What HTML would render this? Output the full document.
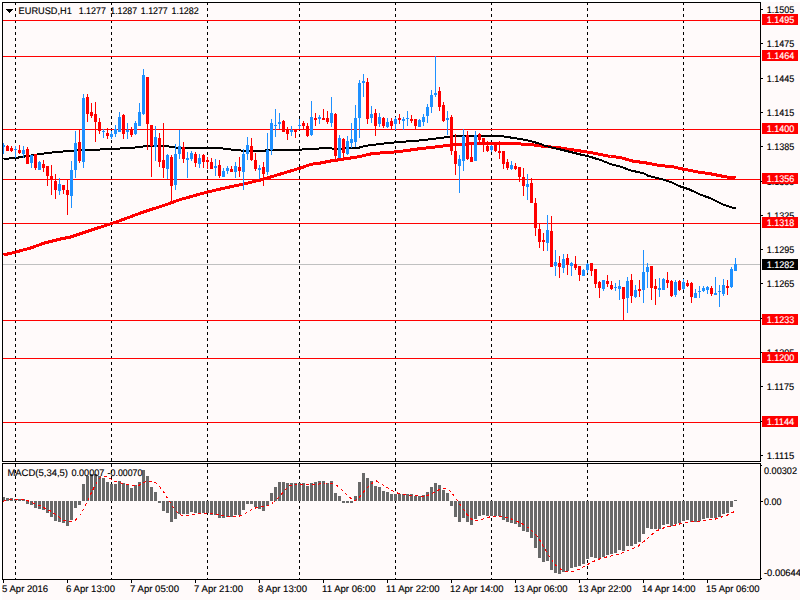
<!DOCTYPE html>
<html lang="en"><head><meta charset="utf-8"><title>EURUSD,H1</title>
<style>html,body{margin:0;padding:0;background:#fff;overflow:hidden}svg{display:block}text{font-family:"Liberation Sans", sans-serif;font-size:9.6px;fill:#000;text-rendering:geometricPrecision;stroke:#000;stroke-width:0.15px}.w{fill:#fff;stroke:#fff}</style></head><body>
<svg width="800" height="600" viewBox="0 0 800 600">
<rect x="0" y="0" width="800" height="600" fill="#fff"/>
<rect x="2" y="2" width="798" height="598" fill="#FFFAFA"/>
<g shape-rendering="crispEdges">
<line x1="15.5" y1="2" x2="15.5" y2="579" stroke="#000" stroke-width="1" stroke-dasharray="3 3"/>
<line x1="111.5" y1="2" x2="111.5" y2="579" stroke="#000" stroke-width="1" stroke-dasharray="3 3"/>
<line x1="207.5" y1="2" x2="207.5" y2="579" stroke="#000" stroke-width="1" stroke-dasharray="3 3"/>
<line x1="299.5" y1="2" x2="299.5" y2="579" stroke="#000" stroke-width="1" stroke-dasharray="3 3"/>
<line x1="395.5" y1="2" x2="395.5" y2="579" stroke="#000" stroke-width="1" stroke-dasharray="3 3"/>
<line x1="491.5" y1="2" x2="491.5" y2="579" stroke="#000" stroke-width="1" stroke-dasharray="3 3"/>
<line x1="587.5" y1="2" x2="587.5" y2="579" stroke="#000" stroke-width="1" stroke-dasharray="3 3"/>
<line x1="683.5" y1="2" x2="683.5" y2="579" stroke="#000" stroke-width="1" stroke-dasharray="3 3"/>
<rect x="3" y="20" width="757" height="1" fill="#FF0000"/>
<rect x="3" y="56" width="757" height="1" fill="#FF0000"/>
<rect x="3" y="129" width="757" height="1" fill="#FF0000"/>
<rect x="3" y="179" width="757" height="1" fill="#FF0000"/>
<rect x="3" y="223" width="757" height="1" fill="#FF0000"/>
<rect x="3" y="320" width="757" height="1" fill="#FF0000"/>
<rect x="3" y="358" width="757" height="1" fill="#FF0000"/>
<rect x="3" y="422" width="757" height="1" fill="#FF0000"/>
<rect x="3" y="264" width="757" height="1" fill="#C0C0C0"/>
<polyline fill="none" stroke="#FF0000" stroke-width="3" stroke-linejoin="round" points="3.5,255 16.1,252 30.5,248 44.5,243 60.5,239 70.5,237 80.5,233.6 94.5,229 111.5,223.6 124.5,219 140.5,213 152.5,209 160.5,206.6 180.5,199.5 207.5,192 220.5,189 243.5,184 260.5,180 280.5,174 290.5,171 300.5,168 310.5,164.4 320.5,163 330.5,161 340.5,159.6 350.5,158 360.5,156.4 370.5,154 380.5,153 390.5,152.4 400.5,151.3 410.5,150 420.5,148.6 430.5,147.6 440.5,146.4 450.5,145 460.5,144.3 480.5,143.5 500.5,143.5 520.5,144 530.5,144.5 540.5,146 550.5,147 560.5,148 570.5,149.5 580.5,151 590.5,152.5 600.5,154.5 610.5,156.5 620.5,157.5 632.5,161 646.5,163 659,165.4 673,166.8 683.5,169.2 697.5,171.9 711.5,174 725.5,176.8 735.5,178"/>
<polyline fill="none" stroke="#000" stroke-width="2" stroke-linejoin="round" points="3.5,159 15.5,158 27.5,156 40.5,154 55.5,152 70.5,151 75.5,150.5 100.5,149.5 120.5,148.5 135.5,147.5 143.5,146.5 150.5,146 167.5,146 170.5,147 180.5,148 200.5,148 210.5,148 222.5,148.5 230.5,149.5 240.5,150.5 265.5,150.5 280.5,150 300.5,149.6 310.5,149 328.5,148 332.5,148.6 356.5,148.4 364.5,146 372.5,145 388.5,143 404.5,141.6 420.5,140.4 432.5,139 440.5,138 450.5,136.5 470.5,135.7 500.5,136 510.5,137.5 520.5,139 530.5,141 540.5,144 545.5,146 560.5,149.5 570.5,152 580.5,154.5 587.5,156 600.5,160 610.5,164 620.5,166.7 630.5,170.4 643.5,173.3 648.5,175.9 662.5,179.4 673,182.9 680,186.4 690.5,189.9 699.5,194.3 711.5,198.6 723.5,204.8 732.5,207.7 735.5,207.7"/>
<rect x="3" y="143" width="1" height="11" fill="#1E90FF"/>
<rect x="2" y="145" width="3" height="2" fill="#1E90FF"/>
<rect x="7" y="145" width="1" height="6" fill="#FF0000"/>
<rect x="6" y="146" width="3" height="5" fill="#FF0000"/>
<rect x="11" y="146" width="1" height="6" fill="#FF0000"/>
<rect x="10" y="148" width="3" height="3" fill="#FF0000"/>
<rect x="15" y="146" width="1" height="12" fill="#1E90FF"/>
<rect x="14" y="149" width="3" height="1" fill="#1E90FF"/>
<rect x="19" y="145" width="1" height="9" fill="#FF0000"/>
<rect x="18" y="150" width="3" height="3" fill="#FF0000"/>
<rect x="23" y="146" width="1" height="12" fill="#1E90FF"/>
<rect x="22" y="150" width="3" height="4" fill="#1E90FF"/>
<rect x="27" y="147" width="1" height="17" fill="#FF0000"/>
<rect x="26" y="149" width="3" height="15" fill="#FF0000"/>
<rect x="31" y="155" width="1" height="13" fill="#1E90FF"/>
<rect x="30" y="155" width="3" height="8" fill="#1E90FF"/>
<rect x="35" y="154" width="1" height="16" fill="#FF0000"/>
<rect x="34" y="154" width="3" height="14" fill="#FF0000"/>
<rect x="39" y="161" width="1" height="9" fill="#1E90FF"/>
<rect x="38" y="162" width="3" height="8" fill="#1E90FF"/>
<rect x="43" y="160" width="1" height="12" fill="#FF0000"/>
<rect x="42" y="164" width="3" height="4" fill="#FF0000"/>
<rect x="47" y="166" width="1" height="20" fill="#FF0000"/>
<rect x="46" y="166" width="3" height="10" fill="#FF0000"/>
<rect x="51" y="165" width="1" height="30" fill="#FF0000"/>
<rect x="50" y="176" width="3" height="3" fill="#FF0000"/>
<rect x="55" y="174" width="1" height="25" fill="#FF0000"/>
<rect x="54" y="181" width="3" height="9" fill="#FF0000"/>
<rect x="59" y="178" width="1" height="17" fill="#1E90FF"/>
<rect x="58" y="184" width="3" height="7" fill="#1E90FF"/>
<rect x="63" y="185" width="1" height="9" fill="#FF0000"/>
<rect x="62" y="185" width="3" height="5" fill="#FF0000"/>
<rect x="67" y="179" width="1" height="36" fill="#FF0000"/>
<rect x="66" y="190" width="3" height="5" fill="#FF0000"/>
<rect x="71" y="161" width="1" height="47" fill="#1E90FF"/>
<rect x="70" y="170" width="3" height="26" fill="#1E90FF"/>
<rect x="75" y="131" width="1" height="47" fill="#1E90FF"/>
<rect x="74" y="143" width="3" height="27" fill="#1E90FF"/>
<rect x="79" y="129" width="1" height="34" fill="#FF0000"/>
<rect x="78" y="142" width="3" height="19" fill="#FF0000"/>
<rect x="83" y="94" width="1" height="74" fill="#1E90FF"/>
<rect x="82" y="98" width="3" height="64" fill="#1E90FF"/>
<rect x="87" y="94" width="1" height="28" fill="#FF0000"/>
<rect x="86" y="97" width="3" height="17" fill="#FF0000"/>
<rect x="91" y="103" width="1" height="15" fill="#FF0000"/>
<rect x="90" y="112" width="3" height="4" fill="#FF0000"/>
<rect x="95" y="102" width="1" height="40" fill="#FF0000"/>
<rect x="94" y="114" width="3" height="8" fill="#FF0000"/>
<rect x="99" y="118" width="1" height="16" fill="#FF0000"/>
<rect x="98" y="122" width="3" height="9" fill="#FF0000"/>
<rect x="103" y="129" width="1" height="9" fill="#1E90FF"/>
<rect x="102" y="131" width="3" height="1" fill="#1E90FF"/>
<rect x="107" y="128" width="1" height="11" fill="#FF0000"/>
<rect x="106" y="133" width="3" height="3" fill="#FF0000"/>
<rect x="111" y="131" width="1" height="8" fill="#1E90FF"/>
<rect x="110" y="134" width="3" height="3" fill="#1E90FF"/>
<rect x="115" y="125" width="1" height="12" fill="#1E90FF"/>
<rect x="114" y="129" width="3" height="5" fill="#1E90FF"/>
<rect x="119" y="112" width="1" height="20" fill="#1E90FF"/>
<rect x="118" y="117" width="3" height="15" fill="#1E90FF"/>
<rect x="123" y="114" width="1" height="25" fill="#FF0000"/>
<rect x="122" y="115" width="3" height="19" fill="#FF0000"/>
<rect x="127" y="123" width="1" height="16" fill="#1E90FF"/>
<rect x="126" y="130" width="3" height="2" fill="#1E90FF"/>
<rect x="131" y="127" width="1" height="10" fill="#FF0000"/>
<rect x="130" y="129" width="3" height="6" fill="#FF0000"/>
<rect x="135" y="121" width="1" height="14" fill="#1E90FF"/>
<rect x="134" y="123" width="3" height="11" fill="#1E90FF"/>
<rect x="139" y="103" width="1" height="23" fill="#1E90FF"/>
<rect x="138" y="112" width="3" height="14" fill="#1E90FF"/>
<rect x="143" y="69" width="1" height="46" fill="#1E90FF"/>
<rect x="142" y="75" width="3" height="39" fill="#1E90FF"/>
<rect x="147" y="77" width="1" height="73" fill="#FF0000"/>
<rect x="146" y="77" width="3" height="47" fill="#FF0000"/>
<rect x="151" y="125" width="1" height="52" fill="#FF0000"/>
<rect x="150" y="125" width="3" height="21" fill="#FF0000"/>
<rect x="155" y="126" width="1" height="35" fill="#1E90FF"/>
<rect x="154" y="137" width="3" height="10" fill="#1E90FF"/>
<rect x="159" y="133" width="1" height="34" fill="#FF0000"/>
<rect x="158" y="138" width="3" height="24" fill="#FF0000"/>
<rect x="163" y="123" width="1" height="55" fill="#FF0000"/>
<rect x="162" y="160" width="3" height="8" fill="#FF0000"/>
<rect x="167" y="154" width="1" height="25" fill="#1E90FF"/>
<rect x="166" y="155" width="3" height="14" fill="#1E90FF"/>
<rect x="171" y="155" width="1" height="47" fill="#FF0000"/>
<rect x="170" y="157" width="3" height="29" fill="#FF0000"/>
<rect x="175" y="144" width="1" height="46" fill="#1E90FF"/>
<rect x="174" y="154" width="3" height="31" fill="#1E90FF"/>
<rect x="179" y="130" width="1" height="29" fill="#1E90FF"/>
<rect x="178" y="146" width="3" height="8" fill="#1E90FF"/>
<rect x="183" y="142" width="1" height="21" fill="#FF0000"/>
<rect x="182" y="147" width="3" height="12" fill="#FF0000"/>
<rect x="187" y="152" width="1" height="26" fill="#1E90FF"/>
<rect x="186" y="158" width="3" height="2" fill="#1E90FF"/>
<rect x="191" y="151" width="1" height="10" fill="#1E90FF"/>
<rect x="190" y="153" width="3" height="6" fill="#1E90FF"/>
<rect x="195" y="152" width="1" height="15" fill="#FF0000"/>
<rect x="194" y="154" width="3" height="9" fill="#FF0000"/>
<rect x="199" y="154" width="1" height="14" fill="#1E90FF"/>
<rect x="198" y="158" width="3" height="6" fill="#1E90FF"/>
<rect x="203" y="154" width="1" height="14" fill="#FF0000"/>
<rect x="202" y="155" width="3" height="7" fill="#FF0000"/>
<rect x="207" y="157" width="1" height="12" fill="#FF0000"/>
<rect x="206" y="160" width="3" height="2" fill="#FF0000"/>
<rect x="211" y="158" width="1" height="11" fill="#FF0000"/>
<rect x="210" y="162" width="3" height="7" fill="#FF0000"/>
<rect x="215" y="159" width="1" height="17" fill="#1E90FF"/>
<rect x="214" y="166" width="3" height="2" fill="#1E90FF"/>
<rect x="219" y="160" width="1" height="18" fill="#FF0000"/>
<rect x="218" y="165" width="3" height="11" fill="#FF0000"/>
<rect x="223" y="168" width="1" height="9" fill="#1E90FF"/>
<rect x="222" y="171" width="3" height="6" fill="#1E90FF"/>
<rect x="227" y="166" width="1" height="8" fill="#1E90FF"/>
<rect x="226" y="168" width="3" height="3" fill="#1E90FF"/>
<rect x="231" y="166" width="1" height="6" fill="#FF0000"/>
<rect x="230" y="169" width="3" height="3" fill="#FF0000"/>
<rect x="235" y="162" width="1" height="16" fill="#1E90FF"/>
<rect x="234" y="166" width="3" height="6" fill="#1E90FF"/>
<rect x="239" y="157" width="1" height="20" fill="#FF0000"/>
<rect x="238" y="167" width="3" height="4" fill="#FF0000"/>
<rect x="243" y="149" width="1" height="41" fill="#1E90FF"/>
<rect x="242" y="154" width="3" height="18" fill="#1E90FF"/>
<rect x="247" y="137" width="1" height="23" fill="#1E90FF"/>
<rect x="246" y="145" width="3" height="9" fill="#1E90FF"/>
<rect x="251" y="138" width="1" height="23" fill="#FF0000"/>
<rect x="250" y="146" width="3" height="14" fill="#FF0000"/>
<rect x="255" y="153" width="1" height="18" fill="#FF0000"/>
<rect x="254" y="160" width="3" height="9" fill="#FF0000"/>
<rect x="259" y="165" width="1" height="14" fill="#1E90FF"/>
<rect x="258" y="168" width="3" height="2" fill="#1E90FF"/>
<rect x="263" y="162" width="1" height="24" fill="#FF0000"/>
<rect x="262" y="167" width="3" height="7" fill="#FF0000"/>
<rect x="267" y="133" width="1" height="42" fill="#1E90FF"/>
<rect x="266" y="150" width="3" height="22" fill="#1E90FF"/>
<rect x="271" y="119" width="1" height="36" fill="#1E90FF"/>
<rect x="270" y="123" width="3" height="27" fill="#1E90FF"/>
<rect x="275" y="109" width="1" height="28" fill="#1E90FF"/>
<rect x="274" y="125" width="3" height="1" fill="#1E90FF"/>
<rect x="279" y="113" width="1" height="16" fill="#1E90FF"/>
<rect x="278" y="122" width="3" height="2" fill="#1E90FF"/>
<rect x="283" y="120" width="1" height="12" fill="#FF0000"/>
<rect x="282" y="121" width="3" height="11" fill="#FF0000"/>
<rect x="287" y="127" width="1" height="13" fill="#FF0000"/>
<rect x="286" y="130" width="3" height="4" fill="#FF0000"/>
<rect x="291" y="126" width="1" height="10" fill="#1E90FF"/>
<rect x="290" y="130" width="3" height="2" fill="#1E90FF"/>
<rect x="295" y="130" width="1" height="8" fill="#FF0000"/>
<rect x="294" y="130" width="3" height="2" fill="#FF0000"/>
<rect x="299" y="119" width="1" height="10" fill="#1E90FF"/>
<rect x="298" y="125" width="3" height="1" fill="#1E90FF"/>
<rect x="303" y="121" width="1" height="8" fill="#FF0000"/>
<rect x="302" y="123" width="3" height="3" fill="#FF0000"/>
<rect x="307" y="123" width="1" height="14" fill="#FF0000"/>
<rect x="306" y="126" width="3" height="10" fill="#FF0000"/>
<rect x="311" y="101" width="1" height="35" fill="#1E90FF"/>
<rect x="310" y="117" width="3" height="18" fill="#1E90FF"/>
<rect x="315" y="113" width="1" height="13" fill="#FF0000"/>
<rect x="314" y="118" width="3" height="2" fill="#FF0000"/>
<rect x="319" y="115" width="1" height="9" fill="#1E90FF"/>
<rect x="318" y="117" width="3" height="2" fill="#1E90FF"/>
<rect x="323" y="109" width="1" height="11" fill="#FF0000"/>
<rect x="322" y="118" width="3" height="2" fill="#FF0000"/>
<rect x="327" y="111" width="1" height="13" fill="#FF0000"/>
<rect x="326" y="118" width="3" height="4" fill="#FF0000"/>
<rect x="331" y="97" width="1" height="30" fill="#1E90FF"/>
<rect x="330" y="113" width="3" height="10" fill="#1E90FF"/>
<rect x="335" y="113" width="1" height="47" fill="#FF0000"/>
<rect x="334" y="114" width="3" height="42" fill="#FF0000"/>
<rect x="339" y="135" width="1" height="23" fill="#1E90FF"/>
<rect x="338" y="138" width="3" height="20" fill="#1E90FF"/>
<rect x="343" y="138" width="1" height="20" fill="#FF0000"/>
<rect x="342" y="139" width="3" height="14" fill="#FF0000"/>
<rect x="347" y="136" width="1" height="19" fill="#1E90FF"/>
<rect x="346" y="141" width="3" height="13" fill="#1E90FF"/>
<rect x="351" y="123" width="1" height="25" fill="#1E90FF"/>
<rect x="350" y="139" width="3" height="4" fill="#1E90FF"/>
<rect x="355" y="105" width="1" height="42" fill="#1E90FF"/>
<rect x="354" y="118" width="3" height="24" fill="#1E90FF"/>
<rect x="359" y="80" width="1" height="58" fill="#1E90FF"/>
<rect x="358" y="83" width="3" height="35" fill="#1E90FF"/>
<rect x="363" y="74" width="1" height="23" fill="#1E90FF"/>
<rect x="362" y="81" width="3" height="2" fill="#1E90FF"/>
<rect x="367" y="78" width="1" height="46" fill="#FF0000"/>
<rect x="366" y="82" width="3" height="37" fill="#FF0000"/>
<rect x="371" y="106" width="1" height="17" fill="#1E90FF"/>
<rect x="370" y="114" width="3" height="4" fill="#1E90FF"/>
<rect x="375" y="109" width="1" height="27" fill="#FF0000"/>
<rect x="374" y="113" width="3" height="13" fill="#FF0000"/>
<rect x="379" y="113" width="1" height="14" fill="#1E90FF"/>
<rect x="378" y="117" width="3" height="7" fill="#1E90FF"/>
<rect x="383" y="117" width="1" height="11" fill="#FF0000"/>
<rect x="382" y="118" width="3" height="8" fill="#FF0000"/>
<rect x="387" y="118" width="1" height="10" fill="#1E90FF"/>
<rect x="386" y="122" width="3" height="5" fill="#1E90FF"/>
<rect x="391" y="118" width="1" height="11" fill="#FF0000"/>
<rect x="390" y="121" width="3" height="5" fill="#FF0000"/>
<rect x="395" y="117" width="1" height="13" fill="#1E90FF"/>
<rect x="394" y="119" width="3" height="5" fill="#1E90FF"/>
<rect x="399" y="114" width="1" height="10" fill="#FF0000"/>
<rect x="398" y="118" width="3" height="2" fill="#FF0000"/>
<rect x="403" y="117" width="1" height="13" fill="#1E90FF"/>
<rect x="402" y="119" width="3" height="2" fill="#1E90FF"/>
<rect x="407" y="111" width="1" height="15" fill="#1E90FF"/>
<rect x="406" y="118" width="3" height="1" fill="#1E90FF"/>
<rect x="411" y="115" width="1" height="8" fill="#FF0000"/>
<rect x="410" y="119" width="3" height="2" fill="#FF0000"/>
<rect x="415" y="119" width="1" height="10" fill="#FF0000"/>
<rect x="414" y="119" width="3" height="7" fill="#FF0000"/>
<rect x="419" y="119" width="1" height="8" fill="#1E90FF"/>
<rect x="418" y="120" width="3" height="7" fill="#1E90FF"/>
<rect x="423" y="114" width="1" height="12" fill="#1E90FF"/>
<rect x="422" y="117" width="3" height="5" fill="#1E90FF"/>
<rect x="427" y="104" width="1" height="19" fill="#1E90FF"/>
<rect x="426" y="107" width="3" height="9" fill="#1E90FF"/>
<rect x="431" y="90" width="1" height="23" fill="#1E90FF"/>
<rect x="430" y="95" width="3" height="12" fill="#1E90FF"/>
<rect x="435" y="56" width="1" height="41" fill="#1E90FF"/>
<rect x="434" y="93" width="3" height="2" fill="#1E90FF"/>
<rect x="439" y="87" width="1" height="24" fill="#FF0000"/>
<rect x="438" y="91" width="3" height="16" fill="#FF0000"/>
<rect x="443" y="102" width="1" height="20" fill="#FF0000"/>
<rect x="442" y="105" width="3" height="16" fill="#FF0000"/>
<rect x="447" y="111" width="1" height="24" fill="#1E90FF"/>
<rect x="446" y="118" width="3" height="2" fill="#1E90FF"/>
<rect x="451" y="115" width="1" height="40" fill="#FF0000"/>
<rect x="450" y="117" width="3" height="34" fill="#FF0000"/>
<rect x="455" y="134" width="1" height="41" fill="#FF0000"/>
<rect x="454" y="151" width="3" height="13" fill="#FF0000"/>
<rect x="459" y="155" width="1" height="38" fill="#1E90FF"/>
<rect x="458" y="159" width="3" height="7" fill="#1E90FF"/>
<rect x="463" y="129" width="1" height="42" fill="#1E90FF"/>
<rect x="462" y="136" width="3" height="25" fill="#1E90FF"/>
<rect x="467" y="131" width="1" height="29" fill="#FF0000"/>
<rect x="466" y="135" width="3" height="24" fill="#FF0000"/>
<rect x="471" y="145" width="1" height="17" fill="#FF0000"/>
<rect x="470" y="157" width="3" height="5" fill="#FF0000"/>
<rect x="475" y="131" width="1" height="30" fill="#1E90FF"/>
<rect x="474" y="135" width="3" height="26" fill="#1E90FF"/>
<rect x="479" y="133" width="1" height="9" fill="#FF0000"/>
<rect x="478" y="134" width="3" height="6" fill="#FF0000"/>
<rect x="483" y="138" width="1" height="14" fill="#FF0000"/>
<rect x="482" y="138" width="3" height="4" fill="#FF0000"/>
<rect x="487" y="141" width="1" height="11" fill="#FF0000"/>
<rect x="486" y="146" width="3" height="5" fill="#FF0000"/>
<rect x="491" y="145" width="1" height="7" fill="#1E90FF"/>
<rect x="490" y="146" width="3" height="4" fill="#1E90FF"/>
<rect x="495" y="143" width="1" height="9" fill="#FF0000"/>
<rect x="494" y="143" width="3" height="8" fill="#FF0000"/>
<rect x="499" y="141" width="1" height="18" fill="#FF0000"/>
<rect x="498" y="151" width="3" height="2" fill="#FF0000"/>
<rect x="503" y="151" width="1" height="18" fill="#FF0000"/>
<rect x="502" y="151" width="3" height="13" fill="#FF0000"/>
<rect x="507" y="159" width="1" height="11" fill="#FF0000"/>
<rect x="506" y="162" width="3" height="6" fill="#FF0000"/>
<rect x="511" y="161" width="1" height="9" fill="#1E90FF"/>
<rect x="510" y="165" width="3" height="4" fill="#1E90FF"/>
<rect x="515" y="163" width="1" height="7" fill="#FF0000"/>
<rect x="514" y="166" width="3" height="3" fill="#FF0000"/>
<rect x="519" y="167" width="1" height="15" fill="#FF0000"/>
<rect x="518" y="167" width="3" height="10" fill="#FF0000"/>
<rect x="523" y="168" width="1" height="28" fill="#FF0000"/>
<rect x="522" y="177" width="3" height="9" fill="#FF0000"/>
<rect x="527" y="174" width="1" height="26" fill="#1E90FF"/>
<rect x="526" y="184" width="3" height="3" fill="#1E90FF"/>
<rect x="531" y="178" width="1" height="25" fill="#FF0000"/>
<rect x="530" y="183" width="3" height="20" fill="#FF0000"/>
<rect x="535" y="198" width="1" height="38" fill="#FF0000"/>
<rect x="534" y="203" width="3" height="25" fill="#FF0000"/>
<rect x="539" y="224" width="1" height="24" fill="#FF0000"/>
<rect x="538" y="229" width="3" height="13" fill="#FF0000"/>
<rect x="543" y="233" width="1" height="18" fill="#FF0000"/>
<rect x="542" y="240" width="3" height="2" fill="#FF0000"/>
<rect x="547" y="215" width="1" height="36" fill="#1E90FF"/>
<rect x="546" y="230" width="3" height="13" fill="#1E90FF"/>
<rect x="551" y="216" width="1" height="51" fill="#FF0000"/>
<rect x="550" y="231" width="3" height="36" fill="#FF0000"/>
<rect x="555" y="250" width="1" height="26" fill="#1E90FF"/>
<rect x="554" y="262" width="3" height="4" fill="#1E90FF"/>
<rect x="559" y="256" width="1" height="22" fill="#FF0000"/>
<rect x="558" y="263" width="3" height="4" fill="#FF0000"/>
<rect x="563" y="254" width="1" height="19" fill="#1E90FF"/>
<rect x="562" y="259" width="3" height="9" fill="#1E90FF"/>
<rect x="567" y="254" width="1" height="21" fill="#FF0000"/>
<rect x="566" y="258" width="3" height="7" fill="#FF0000"/>
<rect x="571" y="262" width="1" height="14" fill="#1E90FF"/>
<rect x="570" y="263" width="3" height="3" fill="#1E90FF"/>
<rect x="575" y="256" width="1" height="14" fill="#FF0000"/>
<rect x="574" y="264" width="3" height="4" fill="#FF0000"/>
<rect x="579" y="266" width="1" height="15" fill="#FF0000"/>
<rect x="578" y="266" width="3" height="9" fill="#FF0000"/>
<rect x="583" y="269" width="1" height="7" fill="#1E90FF"/>
<rect x="582" y="270" width="3" height="6" fill="#1E90FF"/>
<rect x="587" y="263" width="1" height="10" fill="#1E90FF"/>
<rect x="586" y="264" width="3" height="6" fill="#1E90FF"/>
<rect x="591" y="263" width="1" height="13" fill="#FF0000"/>
<rect x="590" y="263" width="3" height="8" fill="#FF0000"/>
<rect x="595" y="269" width="1" height="19" fill="#FF0000"/>
<rect x="594" y="269" width="3" height="15" fill="#FF0000"/>
<rect x="599" y="281" width="1" height="17" fill="#FF0000"/>
<rect x="598" y="282" width="3" height="6" fill="#FF0000"/>
<rect x="603" y="280" width="1" height="11" fill="#1E90FF"/>
<rect x="602" y="280" width="3" height="9" fill="#1E90FF"/>
<rect x="607" y="275" width="1" height="12" fill="#FF0000"/>
<rect x="606" y="281" width="3" height="3" fill="#FF0000"/>
<rect x="611" y="281" width="1" height="9" fill="#FF0000"/>
<rect x="610" y="285" width="3" height="4" fill="#FF0000"/>
<rect x="615" y="283" width="1" height="8" fill="#1E90FF"/>
<rect x="614" y="287" width="3" height="1" fill="#1E90FF"/>
<rect x="619" y="280" width="1" height="20" fill="#1E90FF"/>
<rect x="618" y="286" width="3" height="3" fill="#1E90FF"/>
<rect x="623" y="287" width="1" height="33" fill="#FF0000"/>
<rect x="622" y="287" width="3" height="12" fill="#FF0000"/>
<rect x="627" y="277" width="1" height="36" fill="#1E90FF"/>
<rect x="626" y="281" width="3" height="17" fill="#1E90FF"/>
<rect x="631" y="274" width="1" height="29" fill="#FF0000"/>
<rect x="630" y="280" width="3" height="16" fill="#FF0000"/>
<rect x="635" y="285" width="1" height="13" fill="#1E90FF"/>
<rect x="634" y="290" width="3" height="7" fill="#1E90FF"/>
<rect x="639" y="280" width="1" height="17" fill="#FF0000"/>
<rect x="638" y="289" width="3" height="2" fill="#FF0000"/>
<rect x="643" y="250" width="1" height="53" fill="#1E90FF"/>
<rect x="642" y="272" width="3" height="18" fill="#1E90FF"/>
<rect x="647" y="263" width="1" height="25" fill="#1E90FF"/>
<rect x="646" y="267" width="3" height="5" fill="#1E90FF"/>
<rect x="651" y="266" width="1" height="34" fill="#FF0000"/>
<rect x="650" y="266" width="3" height="22" fill="#FF0000"/>
<rect x="655" y="279" width="1" height="26" fill="#FF0000"/>
<rect x="654" y="286" width="3" height="3" fill="#FF0000"/>
<rect x="659" y="278" width="1" height="19" fill="#1E90FF"/>
<rect x="658" y="288" width="3" height="2" fill="#1E90FF"/>
<rect x="663" y="278" width="1" height="12" fill="#1E90FF"/>
<rect x="662" y="279" width="3" height="11" fill="#1E90FF"/>
<rect x="667" y="272" width="1" height="16" fill="#FF0000"/>
<rect x="666" y="280" width="3" height="3" fill="#FF0000"/>
<rect x="671" y="280" width="1" height="17" fill="#FF0000"/>
<rect x="670" y="281" width="3" height="15" fill="#FF0000"/>
<rect x="675" y="280" width="1" height="17" fill="#1E90FF"/>
<rect x="674" y="282" width="3" height="13" fill="#1E90FF"/>
<rect x="679" y="280" width="1" height="11" fill="#FF0000"/>
<rect x="678" y="281" width="3" height="9" fill="#FF0000"/>
<rect x="683" y="279" width="1" height="11" fill="#1E90FF"/>
<rect x="682" y="282" width="3" height="7" fill="#1E90FF"/>
<rect x="687" y="280" width="1" height="7" fill="#FF0000"/>
<rect x="686" y="283" width="3" height="3" fill="#FF0000"/>
<rect x="691" y="282" width="1" height="21" fill="#FF0000"/>
<rect x="690" y="283" width="3" height="14" fill="#FF0000"/>
<rect x="695" y="289" width="1" height="9" fill="#1E90FF"/>
<rect x="694" y="293" width="3" height="5" fill="#1E90FF"/>
<rect x="699" y="286" width="1" height="12" fill="#1E90FF"/>
<rect x="698" y="291" width="3" height="1" fill="#1E90FF"/>
<rect x="703" y="286" width="1" height="6" fill="#1E90FF"/>
<rect x="702" y="288" width="3" height="3" fill="#1E90FF"/>
<rect x="707" y="286" width="1" height="8" fill="#1E90FF"/>
<rect x="706" y="287" width="3" height="3" fill="#1E90FF"/>
<rect x="711" y="286" width="1" height="10" fill="#FF0000"/>
<rect x="710" y="288" width="3" height="6" fill="#FF0000"/>
<rect x="715" y="277" width="1" height="18" fill="#1E90FF"/>
<rect x="714" y="293" width="3" height="2" fill="#1E90FF"/>
<rect x="719" y="285" width="1" height="22" fill="#1E90FF"/>
<rect x="718" y="291" width="3" height="1" fill="#1E90FF"/>
<rect x="723" y="279" width="1" height="17" fill="#1E90FF"/>
<rect x="722" y="285" width="3" height="9" fill="#1E90FF"/>
<rect x="727" y="280" width="1" height="15" fill="#FF0000"/>
<rect x="726" y="286" width="3" height="2" fill="#FF0000"/>
<rect x="731" y="267" width="1" height="21" fill="#1E90FF"/>
<rect x="730" y="269" width="3" height="18" fill="#1E90FF"/>
<rect x="735" y="258" width="1" height="13" fill="#1E90FF"/>
<rect x="734" y="264" width="3" height="7" fill="#1E90FF"/>
<rect x="2" y="497" width="3" height="4" fill="#696969"/>
<rect x="6" y="498" width="3" height="3" fill="#696969"/>
<rect x="10" y="498" width="3" height="3" fill="#696969"/>
<rect x="14" y="499" width="3" height="2" fill="#696969"/>
<rect x="18" y="499" width="3" height="2" fill="#696969"/>
<rect x="22" y="499" width="3" height="2" fill="#696969"/>
<rect x="26" y="501" width="3" height="3" fill="#696969"/>
<rect x="30" y="501" width="3" height="4" fill="#696969"/>
<rect x="34" y="501" width="3" height="7" fill="#696969"/>
<rect x="38" y="501" width="3" height="8" fill="#696969"/>
<rect x="42" y="501" width="3" height="9" fill="#696969"/>
<rect x="46" y="501" width="3" height="12" fill="#696969"/>
<rect x="50" y="501" width="3" height="16" fill="#696969"/>
<rect x="54" y="501" width="3" height="20" fill="#696969"/>
<rect x="58" y="501" width="3" height="21" fill="#696969"/>
<rect x="62" y="501" width="3" height="22" fill="#696969"/>
<rect x="66" y="501" width="3" height="25" fill="#696969"/>
<rect x="70" y="501" width="3" height="19" fill="#696969"/>
<rect x="74" y="501" width="3" height="7" fill="#696969"/>
<rect x="78" y="501" width="3" height="4" fill="#696969"/>
<rect x="82" y="484" width="3" height="17" fill="#696969"/>
<rect x="86" y="476" width="3" height="25" fill="#696969"/>
<rect x="90" y="474" width="3" height="27" fill="#696969"/>
<rect x="94" y="474" width="3" height="27" fill="#696969"/>
<rect x="98" y="476" width="3" height="25" fill="#696969"/>
<rect x="102" y="478" width="3" height="23" fill="#696969"/>
<rect x="106" y="482" width="3" height="19" fill="#696969"/>
<rect x="110" y="484" width="3" height="17" fill="#696969"/>
<rect x="114" y="484" width="3" height="17" fill="#696969"/>
<rect x="118" y="481" width="3" height="20" fill="#696969"/>
<rect x="122" y="483" width="3" height="18" fill="#696969"/>
<rect x="126" y="485" width="3" height="16" fill="#696969"/>
<rect x="130" y="488" width="3" height="13" fill="#696969"/>
<rect x="134" y="485" width="3" height="16" fill="#696969"/>
<rect x="138" y="482" width="3" height="19" fill="#696969"/>
<rect x="142" y="470" width="3" height="31" fill="#696969"/>
<rect x="146" y="476" width="3" height="25" fill="#696969"/>
<rect x="150" y="487" width="3" height="14" fill="#696969"/>
<rect x="154" y="492" width="3" height="9" fill="#696969"/>
<rect x="158" y="501" width="3" height="2" fill="#696969"/>
<rect x="162" y="501" width="3" height="10" fill="#696969"/>
<rect x="166" y="501" width="3" height="12" fill="#696969"/>
<rect x="170" y="501" width="3" height="21" fill="#696969"/>
<rect x="174" y="501" width="3" height="18" fill="#696969"/>
<rect x="178" y="501" width="3" height="13" fill="#696969"/>
<rect x="182" y="501" width="3" height="13" fill="#696969"/>
<rect x="186" y="501" width="3" height="13" fill="#696969"/>
<rect x="190" y="501" width="3" height="11" fill="#696969"/>
<rect x="194" y="501" width="3" height="12" fill="#696969"/>
<rect x="198" y="501" width="3" height="12" fill="#696969"/>
<rect x="202" y="501" width="3" height="12" fill="#696969"/>
<rect x="206" y="501" width="3" height="12" fill="#696969"/>
<rect x="210" y="501" width="3" height="14" fill="#696969"/>
<rect x="214" y="501" width="3" height="14" fill="#696969"/>
<rect x="218" y="501" width="3" height="17" fill="#696969"/>
<rect x="222" y="501" width="3" height="17" fill="#696969"/>
<rect x="226" y="501" width="3" height="16" fill="#696969"/>
<rect x="230" y="501" width="3" height="16" fill="#696969"/>
<rect x="234" y="501" width="3" height="14" fill="#696969"/>
<rect x="238" y="501" width="3" height="14" fill="#696969"/>
<rect x="242" y="501" width="3" height="9" fill="#696969"/>
<rect x="246" y="501" width="3" height="3" fill="#696969"/>
<rect x="250" y="501" width="3" height="3" fill="#696969"/>
<rect x="254" y="501" width="3" height="6" fill="#696969"/>
<rect x="258" y="501" width="3" height="8" fill="#696969"/>
<rect x="262" y="501" width="3" height="10" fill="#696969"/>
<rect x="266" y="501" width="3" height="5" fill="#696969"/>
<rect x="270" y="493" width="3" height="8" fill="#696969"/>
<rect x="274" y="487" width="3" height="14" fill="#696969"/>
<rect x="278" y="482" width="3" height="19" fill="#696969"/>
<rect x="282" y="482" width="3" height="19" fill="#696969"/>
<rect x="286" y="483" width="3" height="18" fill="#696969"/>
<rect x="290" y="483" width="3" height="18" fill="#696969"/>
<rect x="294" y="483" width="3" height="18" fill="#696969"/>
<rect x="298" y="483" width="3" height="18" fill="#696969"/>
<rect x="302" y="483" width="3" height="18" fill="#696969"/>
<rect x="306" y="486" width="3" height="15" fill="#696969"/>
<rect x="310" y="483" width="3" height="18" fill="#696969"/>
<rect x="314" y="482" width="3" height="19" fill="#696969"/>
<rect x="318" y="481" width="3" height="20" fill="#696969"/>
<rect x="322" y="481" width="3" height="20" fill="#696969"/>
<rect x="326" y="483" width="3" height="18" fill="#696969"/>
<rect x="330" y="481" width="3" height="20" fill="#696969"/>
<rect x="334" y="493" width="3" height="8" fill="#696969"/>
<rect x="338" y="496" width="3" height="5" fill="#696969"/>
<rect x="342" y="501" width="3" height="2" fill="#696969"/>
<rect x="346" y="501" width="3" height="2" fill="#696969"/>
<rect x="350" y="501" width="3" height="2" fill="#696969"/>
<rect x="354" y="496" width="3" height="5" fill="#696969"/>
<rect x="358" y="482" width="3" height="19" fill="#696969"/>
<rect x="362" y="473" width="3" height="28" fill="#696969"/>
<rect x="366" y="478" width="3" height="23" fill="#696969"/>
<rect x="370" y="481" width="3" height="20" fill="#696969"/>
<rect x="374" y="486" width="3" height="15" fill="#696969"/>
<rect x="378" y="487" width="3" height="14" fill="#696969"/>
<rect x="382" y="491" width="3" height="10" fill="#696969"/>
<rect x="386" y="492" width="3" height="9" fill="#696969"/>
<rect x="390" y="494" width="3" height="7" fill="#696969"/>
<rect x="394" y="494" width="3" height="7" fill="#696969"/>
<rect x="398" y="494" width="3" height="7" fill="#696969"/>
<rect x="402" y="494" width="3" height="7" fill="#696969"/>
<rect x="406" y="494" width="3" height="7" fill="#696969"/>
<rect x="410" y="494" width="3" height="7" fill="#696969"/>
<rect x="414" y="496" width="3" height="5" fill="#696969"/>
<rect x="418" y="496" width="3" height="5" fill="#696969"/>
<rect x="422" y="495" width="3" height="6" fill="#696969"/>
<rect x="426" y="492" width="3" height="9" fill="#696969"/>
<rect x="430" y="487" width="3" height="14" fill="#696969"/>
<rect x="434" y="483" width="3" height="18" fill="#696969"/>
<rect x="438" y="485" width="3" height="16" fill="#696969"/>
<rect x="442" y="490" width="3" height="11" fill="#696969"/>
<rect x="446" y="493" width="3" height="8" fill="#696969"/>
<rect x="450" y="501" width="3" height="5" fill="#696969"/>
<rect x="454" y="501" width="3" height="16" fill="#696969"/>
<rect x="458" y="501" width="3" height="21" fill="#696969"/>
<rect x="462" y="501" width="3" height="17" fill="#696969"/>
<rect x="466" y="501" width="3" height="21" fill="#696969"/>
<rect x="470" y="501" width="3" height="24" fill="#696969"/>
<rect x="474" y="501" width="3" height="18" fill="#696969"/>
<rect x="478" y="501" width="3" height="15" fill="#696969"/>
<rect x="482" y="501" width="3" height="14" fill="#696969"/>
<rect x="486" y="501" width="3" height="15" fill="#696969"/>
<rect x="490" y="501" width="3" height="15" fill="#696969"/>
<rect x="494" y="501" width="3" height="15" fill="#696969"/>
<rect x="498" y="501" width="3" height="15" fill="#696969"/>
<rect x="502" y="501" width="3" height="19" fill="#696969"/>
<rect x="506" y="501" width="3" height="21" fill="#696969"/>
<rect x="510" y="501" width="3" height="22" fill="#696969"/>
<rect x="514" y="501" width="3" height="23" fill="#696969"/>
<rect x="518" y="501" width="3" height="26" fill="#696969"/>
<rect x="522" y="501" width="3" height="30" fill="#696969"/>
<rect x="526" y="501" width="3" height="31" fill="#696969"/>
<rect x="530" y="501" width="3" height="37" fill="#696969"/>
<rect x="534" y="501" width="3" height="47" fill="#696969"/>
<rect x="538" y="501" width="3" height="57" fill="#696969"/>
<rect x="542" y="501" width="3" height="61" fill="#696969"/>
<rect x="546" y="501" width="3" height="60" fill="#696969"/>
<rect x="550" y="501" width="3" height="69" fill="#696969"/>
<rect x="554" y="501" width="3" height="72" fill="#696969"/>
<rect x="558" y="501" width="3" height="73" fill="#696969"/>
<rect x="562" y="501" width="3" height="71" fill="#696969"/>
<rect x="566" y="501" width="3" height="70" fill="#696969"/>
<rect x="570" y="501" width="3" height="67" fill="#696969"/>
<rect x="574" y="501" width="3" height="66" fill="#696969"/>
<rect x="578" y="501" width="3" height="65" fill="#696969"/>
<rect x="582" y="501" width="3" height="63" fill="#696969"/>
<rect x="586" y="501" width="3" height="58" fill="#696969"/>
<rect x="590" y="501" width="3" height="56" fill="#696969"/>
<rect x="594" y="501" width="3" height="57" fill="#696969"/>
<rect x="598" y="501" width="3" height="58" fill="#696969"/>
<rect x="602" y="501" width="3" height="56" fill="#696969"/>
<rect x="606" y="501" width="3" height="54" fill="#696969"/>
<rect x="610" y="501" width="3" height="53" fill="#696969"/>
<rect x="614" y="501" width="3" height="52" fill="#696969"/>
<rect x="618" y="501" width="3" height="49" fill="#696969"/>
<rect x="622" y="501" width="3" height="50" fill="#696969"/>
<rect x="626" y="501" width="3" height="45" fill="#696969"/>
<rect x="630" y="501" width="3" height="45" fill="#696969"/>
<rect x="634" y="501" width="3" height="43" fill="#696969"/>
<rect x="638" y="501" width="3" height="41" fill="#696969"/>
<rect x="642" y="501" width="3" height="33" fill="#696969"/>
<rect x="646" y="501" width="3" height="27" fill="#696969"/>
<rect x="650" y="501" width="3" height="28" fill="#696969"/>
<rect x="654" y="501" width="3" height="28" fill="#696969"/>
<rect x="658" y="501" width="3" height="28" fill="#696969"/>
<rect x="662" y="501" width="3" height="24" fill="#696969"/>
<rect x="666" y="501" width="3" height="23" fill="#696969"/>
<rect x="670" y="501" width="3" height="25" fill="#696969"/>
<rect x="674" y="501" width="3" height="23" fill="#696969"/>
<rect x="678" y="501" width="3" height="22" fill="#696969"/>
<rect x="682" y="501" width="3" height="20" fill="#696969"/>
<rect x="686" y="501" width="3" height="19" fill="#696969"/>
<rect x="690" y="501" width="3" height="21" fill="#696969"/>
<rect x="694" y="501" width="3" height="21" fill="#696969"/>
<rect x="698" y="501" width="3" height="20" fill="#696969"/>
<rect x="702" y="501" width="3" height="18" fill="#696969"/>
<rect x="706" y="501" width="3" height="17" fill="#696969"/>
<rect x="710" y="501" width="3" height="17" fill="#696969"/>
<rect x="714" y="501" width="3" height="17" fill="#696969"/>
<rect x="718" y="501" width="3" height="16" fill="#696969"/>
<rect x="722" y="501" width="3" height="13" fill="#696969"/>
<rect x="726" y="501" width="3" height="12" fill="#696969"/>
<rect x="730" y="501" width="3" height="6" fill="#696969"/>
<rect x="734" y="500" width="3" height="1" fill="#696969"/>
<polyline fill="none" stroke="#FF0000" stroke-width="1" stroke-dasharray="3 3" points="3.5,501.5 7.5,499 15.5,499 23.5,499 27.5,500.5 31.5,502.5 39.5,505.5 47.5,509.5 51.5,511.5 55.5,514.5 59.5,517.5 63.5,520 67.5,521.5 71.5,522 75.5,520 79.5,515.5 83.5,509.5 87.5,501 91.5,492.5 95.5,484.5 99.5,478.5 103.5,476 107.5,477 111.5,479.5 115.5,481.5 119.5,482.5 123.5,484 127.5,484.5 131.5,485.5 135.5,486 139.5,485 143.5,482.5 147.5,481 151.5,481 155.5,482.5 159.5,486.5 163.5,491.5 167.5,498.5 171.5,504.5 175.5,510.5 179.5,514.5 183.5,516 189.5,515.5 195.5,514 201.5,513 207.5,513 213.5,514 219.5,515 225.5,516 231.5,517 237.5,516.5 243.5,515 249.5,510.5 255.5,508 261.5,507 267.5,506 273.5,502.5 279.5,496.5 284.5,490.5 289.5,485.5 295.5,484 301.5,484 307.5,485 313.5,484.5 319.5,484 325.5,483 331.5,483 337.5,486 343.5,491.5 349.5,497.5 355.5,500.5 360.5,496 365.5,489.5 370.5,484 376.5,481 382.5,484.5 388.5,488.5 394.5,492 400.5,494 406.5,495 412.5,495 418.5,496 424.5,496 430.5,494.5 436.5,491 442.5,488 448.5,489.5 453.5,495 457.5,501 461.5,506.5 465.5,512.5 469.5,517.5 473.5,520.5 477.5,520.5 481.5,519.5 487.5,517.5 493.5,516 499.5,516 505.5,517.5 511.5,519 517.5,521.5 523.5,524.5 529.5,528.5 535.5,534 539.5,539.5 542.5,545.5 546.5,552 550.5,558 554.5,564 559.5,568.5 565.5,571.5 572.5,571.5 579.5,569 584.5,566 590.5,563 596.5,560 602.5,558 608.5,556.5 614.5,555.5 620.5,553.5 626.5,551 632.5,548.5 638.5,546 644.5,541 650.5,535.5 656.5,531 661.5,528.5 667.5,527 673.5,525.5 679.5,524 685.5,523 691.5,522 697.5,521.5 703.5,520.5 709.5,520 715.5,519 721.5,517 727.5,515 733.5,512 735.5,510.5"/>
<rect x="2" y="2" width="1" height="460" fill="#000"/>
<rect x="2" y="463" width="1" height="117" fill="#000"/>
<rect x="2" y="2" width="759" height="1" fill="#000"/>
<rect x="760" y="2" width="1" height="460" fill="#000"/>
<rect x="760" y="463" width="1" height="117" fill="#000"/>
<rect x="2" y="461" width="759" height="1" fill="#000"/>
<rect x="2" y="463" width="759" height="1" fill="#000"/>
<rect x="2" y="579" width="759" height="1" fill="#000"/>
<rect x="6" y="9" width="7" height="1" fill="#000"/>
<rect x="7" y="10" width="5" height="1" fill="#000"/>
<rect x="8" y="11" width="3" height="1" fill="#000"/>
<rect x="9" y="12" width="1" height="1" fill="#000"/>
<rect x="761" y="9" width="2" height="1" fill="#000"/>
<rect x="761" y="43" width="2" height="1" fill="#000"/>
<rect x="761" y="78" width="2" height="1" fill="#000"/>
<rect x="761" y="112" width="2" height="1" fill="#000"/>
<rect x="761" y="146" width="2" height="1" fill="#000"/>
<rect x="761" y="181" width="2" height="1" fill="#000"/>
<rect x="761" y="215" width="2" height="1" fill="#000"/>
<rect x="761" y="249" width="2" height="1" fill="#000"/>
<rect x="761" y="283" width="2" height="1" fill="#000"/>
<rect x="761" y="318" width="2" height="1" fill="#000"/>
<rect x="761" y="352" width="2" height="1" fill="#000"/>
<rect x="761" y="386" width="2" height="1" fill="#000"/>
<rect x="761" y="421" width="2" height="1" fill="#000"/>
<rect x="761" y="455" width="2" height="1" fill="#000"/>
<rect x="761" y="465" width="1" height="1" fill="#000"/>
<rect x="761" y="501" width="2" height="1" fill="#000"/>
<rect x="761" y="578" width="1" height="1" fill="#000"/>
<rect x="3" y="580" width="1" height="3" fill="#000"/>
<rect x="67" y="580" width="1" height="3" fill="#000"/>
<rect x="131" y="580" width="1" height="3" fill="#000"/>
<rect x="195" y="580" width="1" height="3" fill="#000"/>
<rect x="259" y="580" width="1" height="3" fill="#000"/>
<rect x="323" y="580" width="1" height="3" fill="#000"/>
<rect x="387" y="580" width="1" height="3" fill="#000"/>
<rect x="451" y="580" width="1" height="3" fill="#000"/>
<rect x="515" y="580" width="1" height="3" fill="#000"/>
<rect x="579" y="580" width="1" height="3" fill="#000"/>
<rect x="643" y="580" width="1" height="3" fill="#000"/>
<rect x="707" y="580" width="1" height="3" fill="#000"/>
</g>
<text x="766.7" y="13" textLength="27.5" lengthAdjust="spacingAndGlyphs">1.1505</text>
<text x="766.7" y="47" textLength="27.5" lengthAdjust="spacingAndGlyphs">1.1475</text>
<text x="766.7" y="82" textLength="27.5" lengthAdjust="spacingAndGlyphs">1.1445</text>
<text x="766.7" y="116" textLength="27.5" lengthAdjust="spacingAndGlyphs">1.1415</text>
<text x="766.7" y="150" textLength="27.5" lengthAdjust="spacingAndGlyphs">1.1385</text>
<text x="766.7" y="185" textLength="27.5" lengthAdjust="spacingAndGlyphs">1.1355</text>
<text x="766.7" y="219" textLength="27.5" lengthAdjust="spacingAndGlyphs">1.1325</text>
<text x="766.7" y="253" textLength="27.5" lengthAdjust="spacingAndGlyphs">1.1295</text>
<text x="766.7" y="287" textLength="27.5" lengthAdjust="spacingAndGlyphs">1.1265</text>
<text x="766.7" y="322" textLength="27.5" lengthAdjust="spacingAndGlyphs">1.1235</text>
<text x="766.7" y="356" textLength="27.5" lengthAdjust="spacingAndGlyphs">1.1205</text>
<text x="766.7" y="390" textLength="27.5" lengthAdjust="spacingAndGlyphs">1.1175</text>
<text x="766.7" y="425" textLength="27.5" lengthAdjust="spacingAndGlyphs">1.1145</text>
<text x="766.7" y="459" textLength="27.5" lengthAdjust="spacingAndGlyphs">1.1115</text>
<text x="764" y="474" textLength="33" lengthAdjust="spacingAndGlyphs">0.00302</text>
<text x="764" y="505" textLength="17.5" lengthAdjust="spacingAndGlyphs">0.00</text>
<text x="764" y="576" textLength="37" lengthAdjust="spacingAndGlyphs">-0.00644</text>
<g shape-rendering="crispEdges">
<rect x="762" y="14" width="36" height="11" fill="#FF0000"/>
<rect x="762" y="50" width="36" height="11" fill="#FF0000"/>
<rect x="762" y="123" width="36" height="11" fill="#FF0000"/>
<rect x="762" y="173" width="36" height="11" fill="#FF0000"/>
<rect x="762" y="217" width="36" height="11" fill="#FF0000"/>
<rect x="762" y="314" width="36" height="11" fill="#FF0000"/>
<rect x="762" y="352" width="36" height="11" fill="#FF0000"/>
<rect x="762" y="416" width="36" height="11" fill="#FF0000"/>
<rect x="762" y="259" width="36" height="11" fill="#000"/>
</g>
<text x="766.7" y="23" textLength="27.5" lengthAdjust="spacingAndGlyphs" class="w">1.1495</text>
<text x="766.7" y="59" textLength="27.5" lengthAdjust="spacingAndGlyphs" class="w">1.1464</text>
<text x="766.7" y="132" textLength="27.5" lengthAdjust="spacingAndGlyphs" class="w">1.1400</text>
<text x="766.7" y="182" textLength="27.5" lengthAdjust="spacingAndGlyphs" class="w">1.1356</text>
<text x="766.7" y="226" textLength="27.5" lengthAdjust="spacingAndGlyphs" class="w">1.1318</text>
<text x="766.7" y="323" textLength="27.5" lengthAdjust="spacingAndGlyphs" class="w">1.1233</text>
<text x="766.7" y="361" textLength="27.5" lengthAdjust="spacingAndGlyphs" class="w">1.1200</text>
<text x="766.7" y="425" textLength="27.5" lengthAdjust="spacingAndGlyphs" class="w">1.1144</text>
<text x="766.7" y="268" textLength="27.5" lengthAdjust="spacingAndGlyphs" class="w">1.1282</text>
<text x="18.6" y="14" textLength="53.2" lengthAdjust="spacingAndGlyphs">EURUSD,H1</text>
<text x="78.7" y="14" textLength="27.2" lengthAdjust="spacingAndGlyphs">1.1277</text>
<text x="110.3" y="14" textLength="26.8" lengthAdjust="spacingAndGlyphs">1.1287</text>
<text x="140.8" y="14" textLength="26.9" lengthAdjust="spacingAndGlyphs">1.1277</text>
<text x="171.5" y="14" textLength="27.2" lengthAdjust="spacingAndGlyphs">1.1282</text>
<text x="7.4" y="476" textLength="60.6" lengthAdjust="spacingAndGlyphs">MACD(5,34,5)</text>
<text x="71.4" y="476" textLength="33" lengthAdjust="spacingAndGlyphs">0.00007</text>
<text x="107.6" y="476" textLength="34.8" lengthAdjust="spacingAndGlyphs">-0.00070</text>
<text x="2.1" y="592" textLength="46" lengthAdjust="spacingAndGlyphs">5 Apr 2016</text>
<text x="66.1" y="592" textLength="48.9" lengthAdjust="spacingAndGlyphs">6 Apr 13:00</text>
<text x="130.1" y="592" textLength="48.9" lengthAdjust="spacingAndGlyphs">7 Apr 05:00</text>
<text x="194.1" y="592" textLength="48.9" lengthAdjust="spacingAndGlyphs">7 Apr 21:00</text>
<text x="258.1" y="592" textLength="48.9" lengthAdjust="spacingAndGlyphs">8 Apr 13:00</text>
<text x="322.1" y="592" textLength="53.5" lengthAdjust="spacingAndGlyphs">11 Apr 06:00</text>
<text x="386.1" y="592" textLength="53.5" lengthAdjust="spacingAndGlyphs">11 Apr 22:00</text>
<text x="450.1" y="592" textLength="53.5" lengthAdjust="spacingAndGlyphs">12 Apr 14:00</text>
<text x="514.1" y="592" textLength="53.5" lengthAdjust="spacingAndGlyphs">13 Apr 06:00</text>
<text x="578.1" y="592" textLength="53.5" lengthAdjust="spacingAndGlyphs">13 Apr 22:00</text>
<text x="642.1" y="592" textLength="53.5" lengthAdjust="spacingAndGlyphs">14 Apr 14:00</text>
<text x="706.1" y="592" textLength="53.5" lengthAdjust="spacingAndGlyphs">15 Apr 06:00</text>
</svg></body></html>
